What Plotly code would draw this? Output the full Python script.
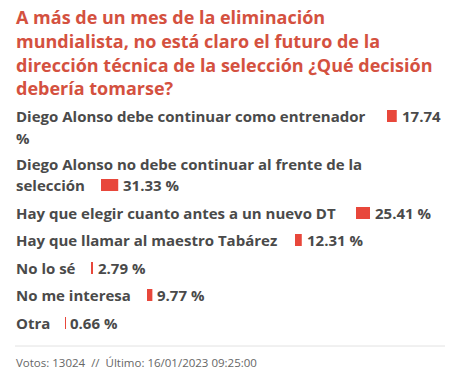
import plotly.graph_objects as go

# ---- data ----
title_lines = [
    "A más de un mes de la eliminación",
    "mundialista, no está claro el futuro de la",
    "dirección técnica de la selección ¿Qué decisión",
    "debería tomarse?",
]
options = [
    "Diego Alonso debe continuar como entrenador",
    "Diego Alonso no debe continuar al frente de la selección",
    "Hay que elegir cuanto antes a un nuevo DT",
    "Hay que llamar al maestro Tabárez",
    "No lo sé",
    "No me interesa",
    "Otra",
]
percents = [17.74, 31.33, 25.41, 12.31, 2.79, 9.77, 0.66]
votes = 13024
last_update = "16/01/2023 09:25:00"

# ---- layout helpers (pixel coordinates) ----
W, H = 453, 375
LEFT = 15
PX_PER_PCT = 0.55
BAR_H = 12
TITLE_COLOR = "#d4513f"
BAR_COLOR = "#e8473b"
TEXT_COLOR = "#4a4a4a"
FONT = "Open Sans"
LBL_SIZE = 15

# how each option label wraps: list of text lines, line centers, and where the bar starts
label_lines = [
    ["Diego Alonso debe continuar como entrenador"],
    ["Diego Alonso no debe continuar al frente de la", "selección"],
    ["Hay que elegir cuanto antes a un nuevo DT"],
    ["Hay que llamar al maestro Tabárez"],
    ["No lo sé"],
    ["No me interesa"],
    ["Otra"],
]
line_y = [[116], [164, 185], [213], [240], [268], [295], [323]]
bar_x0 = [387, 101, 356, 295, 91, 147, 65]

fig = go.Figure()

bar_y = [ys[-1] for ys in line_y]
fig.add_trace(go.Bar(
    orientation="h",
    y=bar_y,
    x=[p * PX_PER_PCT for p in percents],
    base=bar_x0,
    width=BAR_H,
    marker=dict(color=BAR_COLOR, line=dict(width=0)),
    hoverinfo="skip",
    showlegend=False,
))

def txt(x, y, t, size, color, bold=True):
    f = dict(family=FONT, size=size, color=color)
    if bold:
        f["weight"] = "bold"
    return dict(x=x, y=y, text=t, xref="x", yref="y", xanchor="left",
                yanchor="middle", showarrow=False, font=f, borderpad=0)

ann = []
for i, t in enumerate(title_lines):
    ann.append(txt(LEFT, 17 + i * 23.8, t, 18, TITLE_COLOR))

for i, lines in enumerate(label_lines):
    for t, yy in zip(lines, line_y[i]):
        ann.append(txt(LEFT, yy, t, LBL_SIZE, TEXT_COLOR))
    vx = bar_x0[i] + percents[i] * PX_PER_PCT + 4
    if i == 0:
        # value wraps: number after bar, "%" on next line
        ann.append(txt(vx, bar_y[i], f"{percents[i]:.2f}", LBL_SIZE, TEXT_COLOR))
        ann.append(txt(LEFT, 138, "%", LBL_SIZE, TEXT_COLOR))
    else:
        ann.append(txt(vx, bar_y[i], f"{percents[i]:.2f} %", LBL_SIZE, TEXT_COLOR))

ann.append(txt(LEFT, 362, f"Votos: {votes}  //  Último: {last_update}", 11.5, "#666666", bold=False))

fig.update_layout(
    width=W, height=H,
    margin=dict(l=0, r=0, t=0, b=0),
    paper_bgcolor="white", plot_bgcolor="white",
    xaxis=dict(range=[0, W], visible=False, fixedrange=True),
    yaxis=dict(range=[H, 0], visible=False, fixedrange=True),
    annotations=ann,
    shapes=[dict(type="line", xref="x", yref="y", x0=LEFT, x1=445, y0=346, y1=346,
                 line=dict(color="#e2e2e2", width=1))],
    barmode="overlay",
)

fig.write_html("out.html", config={"displayModeBar": False},
               post_script="document.body.style.margin='0';document.body.style.overflow='hidden';")
